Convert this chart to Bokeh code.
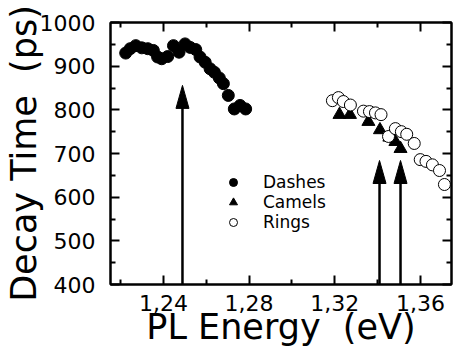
from bokeh.plotting import figure
from bokeh.models import (FixedTicker, LinearAxis, Range1d, Legend, LegendItem,
                          CustomLabelingPolicy)
from bokeh.embed import file_html
from bokeh.resources import INLINE

# ---------------- data ----------------
dash_energy = [1.2224, 1.2245, 1.2271, 1.2299, 1.2327, 1.2353, 1.2373, 1.2392,
               1.2420, 1.2447, 1.2473, 1.2501, 1.2525, 1.2551, 1.2571, 1.2595,
               1.2618, 1.2638, 1.2661, 1.2680, 1.2703, 1.2731, 1.2758, 1.2784]
dash_time = [930, 940, 947, 942, 940, 936, 921, 917,
             922, 947, 932, 951, 943, 938, 921, 909,
             894, 886, 873, 860, 833, 802, 810, 802]

camel_energy = [1.3222, 1.3271, 1.3357, 1.3411, 1.3455, 1.3483, 1.3507]
camel_time = [789, 789, 773, 754, 737, 727, 711]

ring_energy = [1.3189, 1.3217, 1.3240, 1.3273, 1.3334, 1.3362, 1.3390, 1.3416,
               1.3451, 1.3483, 1.3511, 1.3536, 1.3571, 1.3599, 1.3626, 1.3656,
               1.3689, 1.3712]
ring_time = [821, 828, 819, 811, 797, 796, 793, 789,
             739, 757, 750, 744, 723, 686, 682, 674,
             661, 629]

arrow_energy = [1.2489, 1.3409, 1.3507]
arrow_tip = [856, 684, 684]
arrow_base = 400

x_ticks = [1.24, 1.28, 1.32, 1.36]
x_tick_labels = ["1,24", "1,28", "1,32", "1,36"]
x_minor = [1.22, 1.26, 1.30, 1.34]
y_ticks = [400, 500, 600, 700, 800, 900, 1000]
y_tick_labels = ["400", "500", "600", "700", "800", "900", "1000"]
y_minor = [450, 550, 650, 750, 850, 950]

series_names = ["Dashes", "Camels", "Rings"]
x_title = "PL Energy \u00a0(eV)"
y_title = "Decay Time \u00a0(ps)"

# ---------------- layout ----------------
X0, X1 = 1.2153, 1.3745
Y0, Y1 = 400, 1000
FW, FH = 341, 262
FONT = "DejaVu Sans"

p = figure(frame_width=FW, frame_height=FH,
           min_border_left=104, min_border_right=10,
           min_border_top=22, min_border_bottom=64,
           x_range=Range1d(X0, X1), y_range=Range1d(Y0, Y1),
           output_backend="svg", toolbar_location=None,
           x_axis_location=None, y_axis_location=None)
p.grid.visible = False
p.outline_line_color = "black"
p.outline_line_width = 2
p.background_fill_color = "white"
p.border_fill_color = "white"

xt = FixedTicker(ticks=x_ticks, minor_ticks=x_minor)
yt = FixedTicker(ticks=y_ticks, minor_ticks=y_minor)

no_labels = CustomLabelingPolicy(code="""
    for (const i of indices) indices.unset(i)
    return indices
""")


def style(ax, labels):
    ax.axis_line_width = 2
    ax.major_tick_line_width = 2
    ax.minor_tick_line_width = 2
    ax.major_tick_in = 9
    ax.major_tick_out = 0
    ax.minor_tick_in = 5
    ax.minor_tick_out = 0
    if labels:
        ax.major_label_text_font = FONT
        ax.major_label_text_color = "black"
        ax.major_label_text_font_size = "22px"
        ax.axis_label_text_font = FONT
        ax.axis_label_text_font_size = "35px"
        ax.axis_label_text_font_style = "normal"
        ax.axis_label_text_color = "black"
    else:
        ax.major_label_policy = no_labels
        ax.major_label_standoff = 0


xb = LinearAxis(ticker=xt, axis_label=x_title,
                major_label_overrides=dict(zip(x_ticks, x_tick_labels)))
style(xb, True)
xb.major_label_standoff = 10
xb.axis_label_standoff = -7
p.add_layout(xb, "below")

yl = LinearAxis(ticker=yt, axis_label=y_title,
                major_label_overrides=dict(zip(y_ticks, y_tick_labels)))
style(yl, True)
yl.major_label_standoff = 15
yl.axis_label_standoff = -7
p.add_layout(yl, "left")

xa = LinearAxis(ticker=xt)
style(xa, False)
p.add_layout(xa, "above")
yr = LinearAxis(ticker=yt)
style(yr, False)
p.add_layout(yr, "right")

# ---------------- arrows ----------------
px_x = (X1 - X0) / FW
px_y = (Y1 - Y0) / FH
head_w = 13 * px_x
head_len = 23 * px_y
p.segment(x0=arrow_energy, y0=[arrow_base] * len(arrow_energy),
          x1=arrow_energy, y1=[t - head_len * 0.8 for t in arrow_tip],
          line_color="black", line_width=2.5)
p.patches(xs=[[e - head_w / 2, e, e + head_w / 2] for e in arrow_energy],
          ys=[[t - head_len, t, t - head_len] for t in arrow_tip],
          fill_color="black", line_color="black", line_width=1)

# ---------------- data markers ----------------
r_d = p.scatter(dash_energy, dash_time, marker="circle", size=12,
                fill_color="black", line_color="black")
r_c = p.scatter(camel_energy, camel_time, marker="triangle", size=13,
                fill_color="black", line_color="black")
r_r = p.scatter(ring_energy, ring_time, marker="circle", size=12,
                fill_color="white", line_color="black", line_width=1)

legend = Legend(items=[LegendItem(label=series_names[0], renderers=[r_d]),
                       LegendItem(label=series_names[1], renderers=[r_c]),
                       LegendItem(label=series_names[2], renderers=[r_r])],
                location=(113, 52), margin=0, padding=0, spacing=0,
                glyph_width=20, glyph_height=20, label_height=17,
                label_standoff=20,
                label_text_font=FONT, label_text_font_size="17px",
                label_text_color="black",
                background_fill_alpha=0, border_line_color=None)
p.add_layout(legend, "center")

open("out.html", "w").write(file_html(p, INLINE))
